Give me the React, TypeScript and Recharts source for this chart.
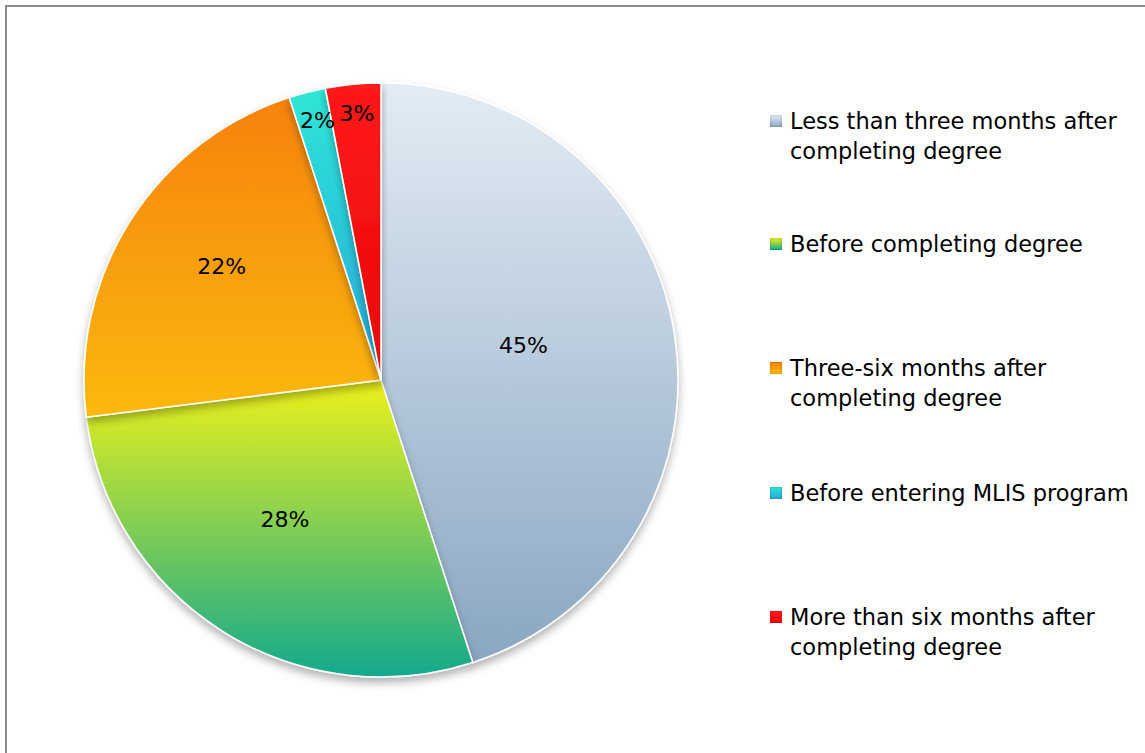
import React from "react";
import { PieChart, Pie, Cell } from "recharts";

const categories = [
  "Less than three months after completing degree",
  "Before completing degree",
  "Three-six months after completing degree",
  "Before entering MLIS program",
  "More than six months after completing degree",
];
const legendLines = [
  ["Less than three months after", "completing degree"],
  ["Before completing degree"],
  ["Three-six months after", "completing degree"],
  ["Before entering MLIS program"],
  ["More than six months after", "completing degree"],
];
const values = [45, 28, 22, 2, 3];
const gradientTop = ["#e3ecf4", "#eef21a", "#f6820c", "#2ee6d6", "#ff1a1a"];
const gradientBottom = ["#8aa6c2", "#12a98e", "#fbb90a", "#27a9dc", "#e80808"];

const data = categories.map((name, i) => ({ name, value: values[i] }));

const RADIAN = Math.PI / 180;
const FONT = "'DejaVu Sans', sans-serif";

const renderLabel = (props: any) => {
  const { cx, cy, midAngle, outerRadius, percent, startAngle, endAngle } = props;
  const theta = Math.abs(endAngle - startAngle) * RADIAN;
  let r: number;
  if (percent < 0.05) {
    r = outerRadius * 0.86;
  } else {
    const half = theta / 2;
    r = (2 * outerRadius * Math.sin(half)) / (3 * half) + 6;
  }
  const x = cx + r * Math.cos(-midAngle * RADIAN);
  const y = cy + r * Math.sin(-midAngle * RADIAN) - 12;
  return (
    <text
      x={x}
      y={y}
      fill="#000"
      textAnchor="middle"
      dominantBaseline="central"
      fontFamily={FONT}
      fontSize={22}
    >
      {`${Math.round(percent * 100)}%`}
    </text>
  );
};

const LegendBox = () => (
  <div
    style={{
      position: "absolute",
      left: 770,
      top: 106,
      width: 375,
      height: 560,
      fontFamily: FONT,
      fontSize: 22.5,
      color: "#000",
    }}
  >
    {legendLines.map((lines, i) => (
      <div
        key={i}
        style={{
          position: "absolute",
          left: 0,
          top: [0, 123, 247, 372, 496][i],
          display: "flex",
          alignItems: "flex-start",
          lineHeight: "30px",
        }}
      >
        <div
          style={{
            width: 12,
            height: 12,
            marginTop: 9,
            marginRight: 8,
            flex: "none",
            background: `linear-gradient(${gradientTop[i]}, ${gradientBottom[i]})`,
            boxShadow: "inset 0 0 2px rgba(0,0,0,0.35)",
          }}
        />
        <div>
          {lines.map((l, j) => (
            <div key={j} style={{ whiteSpace: "nowrap" }}>
              {l}
            </div>
          ))}
        </div>
      </div>
    ))}
  </div>
);

export default function App() {
  return (
    <div
      style={{
        position: "fixed",
        left: 0,
        top: 0,
        width: 1145,
        height: 753,
        overflow: "hidden",
        background: "#fff",
      }}
    >
      <div
        style={{
          position: "absolute",
          left: 5,
          top: 5,
          width: 1160,
          height: 770,
          border: "2px solid #8c8c8c",
        }}
      />
      <div style={{ position: "absolute", left: 0, top: 0 }}>
        <PieChart width={1145} height={753} margin={{ top: 0, right: 0, bottom: 0, left: 0 }}>
          <defs>
            {gradientTop.map((c, i) => (
              <linearGradient key={i} id={`g${i}`} x1="0" y1="0" x2="0" y2="1">
                <stop offset="0%" stopColor={c} />
                <stop offset="100%" stopColor={gradientBottom[i]} />
              </linearGradient>
            ))}
            <filter id="shadow" x="-10%" y="-10%" width="120%" height="125%">
              <feDropShadow dx="0" dy="5" stdDeviation="4" floodColor="#000" floodOpacity="0.3" />
            </filter>
          </defs>
          <Pie
            data={data}
            dataKey="value"
            nameKey="name"
            cx={381}
            cy={380}
            outerRadius={297}
            startAngle={90}
            endAngle={-270}
            stroke="#ffffff"
            strokeWidth={1.5}
            label={renderLabel}
            labelLine={false}
            isAnimationActive={false}
            style={{ filter: "url(#shadow)" }}
          >
            {data.map((_, i) => (
              <Cell key={i} fill={`url(#g${i})`} />
            ))}
          </Pie>
        </PieChart>
      </div>
      <LegendBox />
    </div>
  );
}
